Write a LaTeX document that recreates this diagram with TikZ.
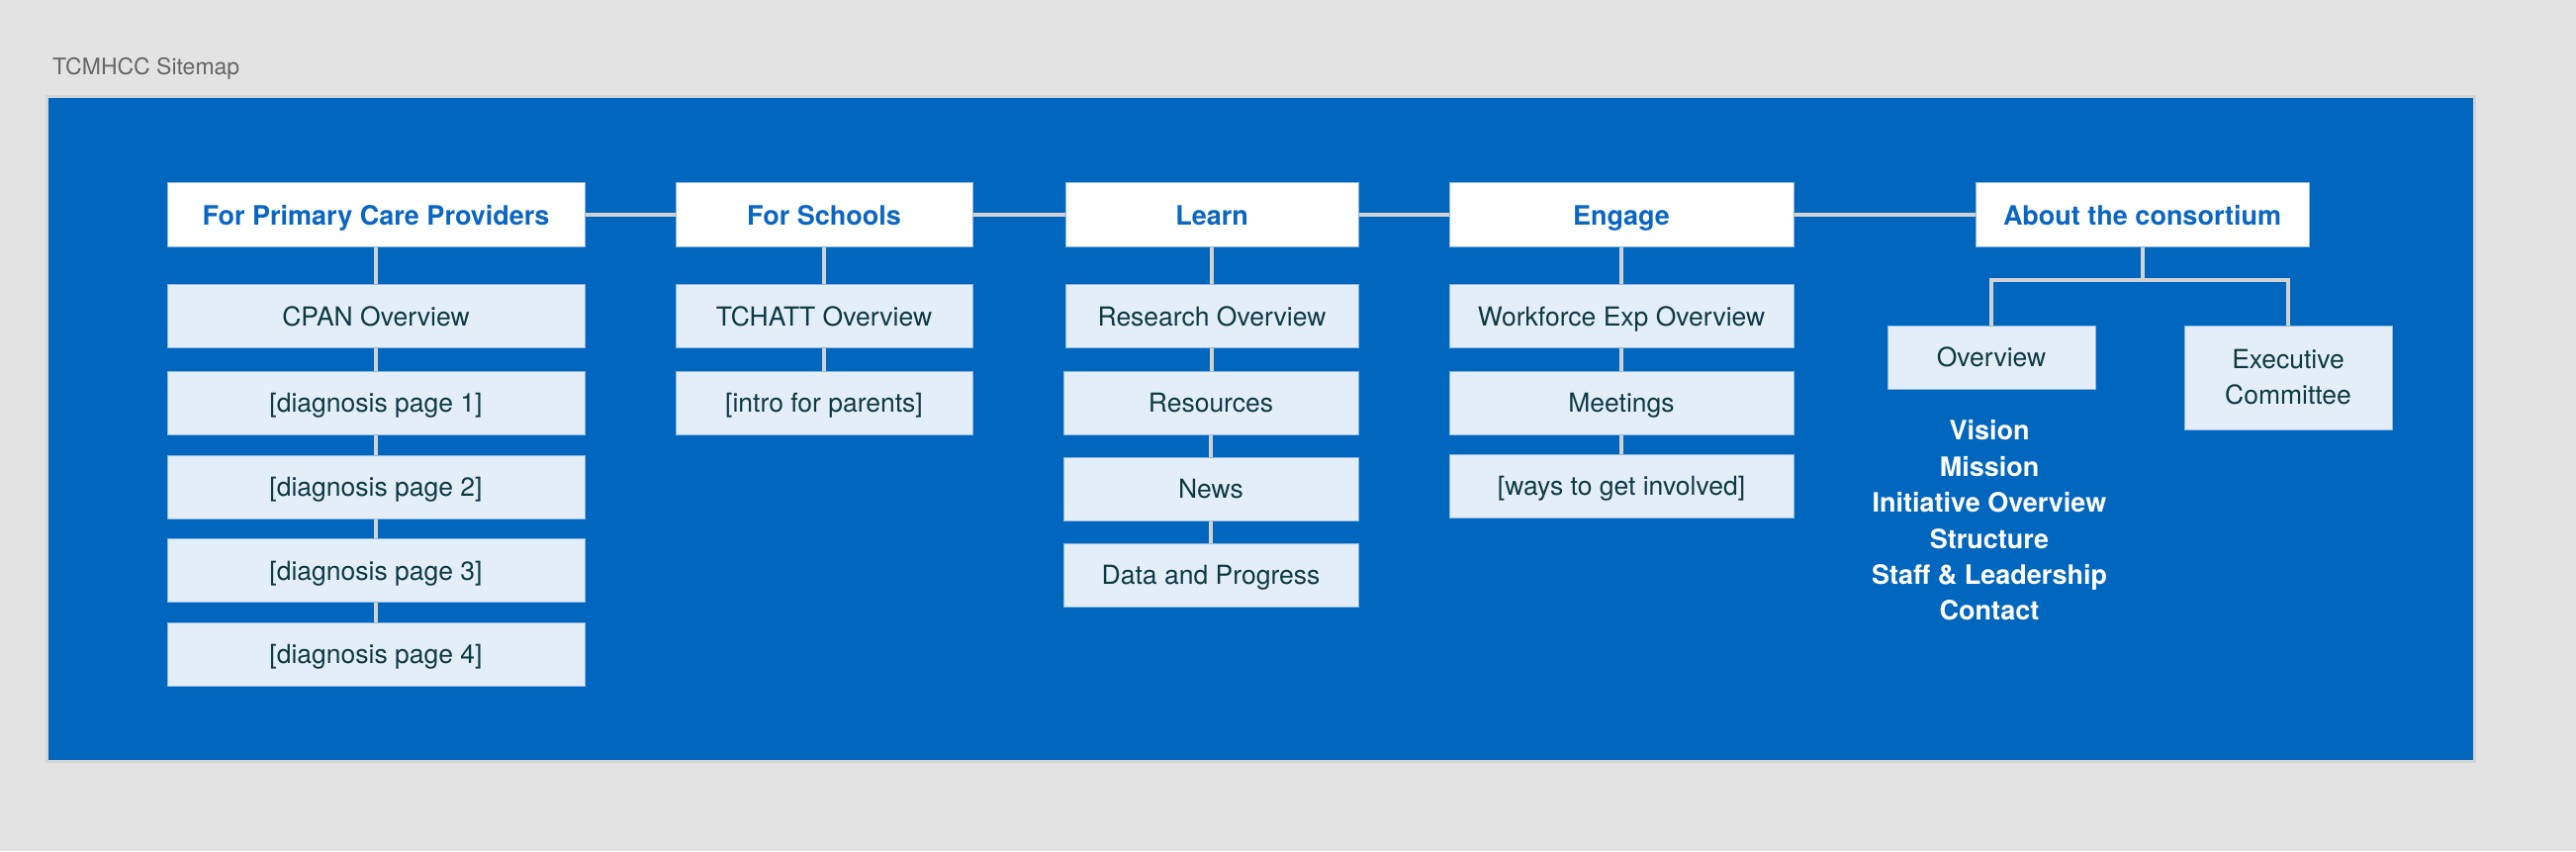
\documentclass[tikz,border=0pt]{standalone}
\usepackage{fontspec}
\setmainfont{TeX Gyre Heros}
\definecolor{bg}{HTML}{E3E3E3}
\definecolor{panel}{HTML}{0066BE}
\definecolor{paneledge}{HTML}{D4D4D4}
\definecolor{leaffill}{HTML}{E4EEF8}
\definecolor{boxedge}{HTML}{8FB8E3}
\definecolor{leaftext}{HTML}{0C3A45}
\definecolor{headblue}{HTML}{0B66C2}
\definecolor{linkgray}{HTML}{D2D2D2}
\definecolor{titlegray}{HTML}{666666}
\begin{document}
\begin{tikzpicture}[x=1pt,y=-1pt,
  head/.style={rectangle, fill=white, draw=boxedge, line width=1pt, minimum height=65pt, inner sep=0pt,
    text=headblue, font=\fontsize{27}{32}\selectfont\bfseries, text height=22.5pt, text depth=0pt},
  leaf/.style={rectangle, fill=leaffill, draw=boxedge, line width=1pt, minimum height=64pt, inner sep=0pt,
    text=leaftext, font=\fontsize{26.5}{32}\selectfont, text height=19pt, text depth=0pt},
  leafml/.style={rectangle, fill=leaffill, draw=boxedge, line width=1pt, inner sep=0pt, align=center,
    text=leaftext, font=\fontsize{26.5}{36}\selectfont},
  link/.style={draw=linkgray, line width=4pt, line join=miter},
  listtext/.style={align=center, text=white, font=\fontsize{27}{36.4}\selectfont\bfseries, inner sep=0pt},
  titletext/.style={text=titlegray, font=\fontsize{23}{27}\selectfont, inner sep=0pt, anchor=base west}
]
\useasboundingbox (0,0) rectangle (2604,860);
\fill[bg] (0,0) rectangle (2604,860);
\draw[draw=paneledge, line width=3pt, fill=panel] (47,97) rectangle (2501,769);

\node[titletext] (title) at (53,75) {TCMHCC Sitemap};

% top row
\node[head, minimum width=422pt] (h1) at (380,216.5) {For Primary Care Providers};
\node[head, minimum width=300pt] (h2) at (833,216.5) {For Schools};
\node[head, minimum width=296pt] (h3) at (1225,216.5) {Learn};
\node[head, minimum width=348pt] (h4) at (1639,216.5) {Engage};
\node[head, minimum width=337pt] (h5) at (2165.5,216.5) {About the consortium};

% column 1
\node[leaf, minimum width=422pt] (a1) at (380,319.5) {CPAN Overview};
\node[leaf, minimum width=422pt] (a2) at (380,407) {[diagnosis page 1]};
\node[leaf, minimum width=422pt] (a3) at (380,492) {[diagnosis page 2]};
\node[leaf, minimum width=422pt] (a4) at (380,576.5) {[diagnosis page 3]};
\node[leaf, minimum width=422pt] (a5) at (380,661) {[diagnosis page 4]};

% column 2
\node[leaf, minimum width=300pt] (b1) at (833,319.5) {TCHATT Overview};
\node[leaf, minimum width=300pt] (b2) at (833,407) {[intro for parents]};

% column 3
\node[leaf, minimum width=296pt] (c1) at (1225,319.5) {Research Overview};
\node[leaf, minimum width=298pt] (c2) at (1224,407) {Resources};
\node[leaf, minimum width=298pt] (c3) at (1224,494) {News};
\node[leaf, minimum width=298pt] (c4) at (1224,581) {Data and Progress};

% column 4
\node[leaf, minimum width=348pt] (d1) at (1639,319.5) {Workforce Exp Overview};
\node[leaf, minimum width=348pt] (d2) at (1639,407) {Meetings};
\node[leaf, minimum width=348pt] (d3) at (1639,491) {[ways to get involved]};

% column 5
\node[leaf, minimum width=210pt] (ov) at (2013,361) {Overview};
\node[leafml, minimum width=210pt, minimum height=105pt] (ex) at (2313,381.5) {Executive\\Committee};
\node[listtext] (lst) at (2011,526) {Vision\\Mission\\Initiative Overview\\Structure\\Staff \& Leadership\\Contact};

% connectors
\draw[link] (h1.east) -- (h2.west);
\draw[link] (h2.east) -- (h3.west);
\draw[link] (h3.east) -- (h4.west);
\draw[link] (h4.east) -- (h5.west);

\draw[link] (h1.south) -- (a1.north);
\draw[link] (a1.south) -- (a2.north);
\draw[link] (a2.south) -- (a3.north);
\draw[link] (a3.south) -- (a4.north);
\draw[link] (a4.south) -- (a5.north);

\draw[link] (h2.south) -- (b1.north);
\draw[link] (b1.south) -- (b2.north);

\draw[link] (h3.south) -- (c1.north);
\draw[link] (c1.south) -- (c1.south |- c2.north);
\draw[link] (c2.south) -- (c3.north);
\draw[link] (c3.south) -- (c4.north);

\draw[link] (h4.south) -- (d1.north);
\draw[link] (d1.south) -- (d2.north);
\draw[link] (d2.south) -- (d3.north);

\coordinate (jn) at (2165.5,283);
\draw[link] (h5.south) -- (h5.south |- jn);
\draw[link] (ov.north) |- (ex.north |- jn) -- (ex.north);
\end{tikzpicture}
\end{document}
